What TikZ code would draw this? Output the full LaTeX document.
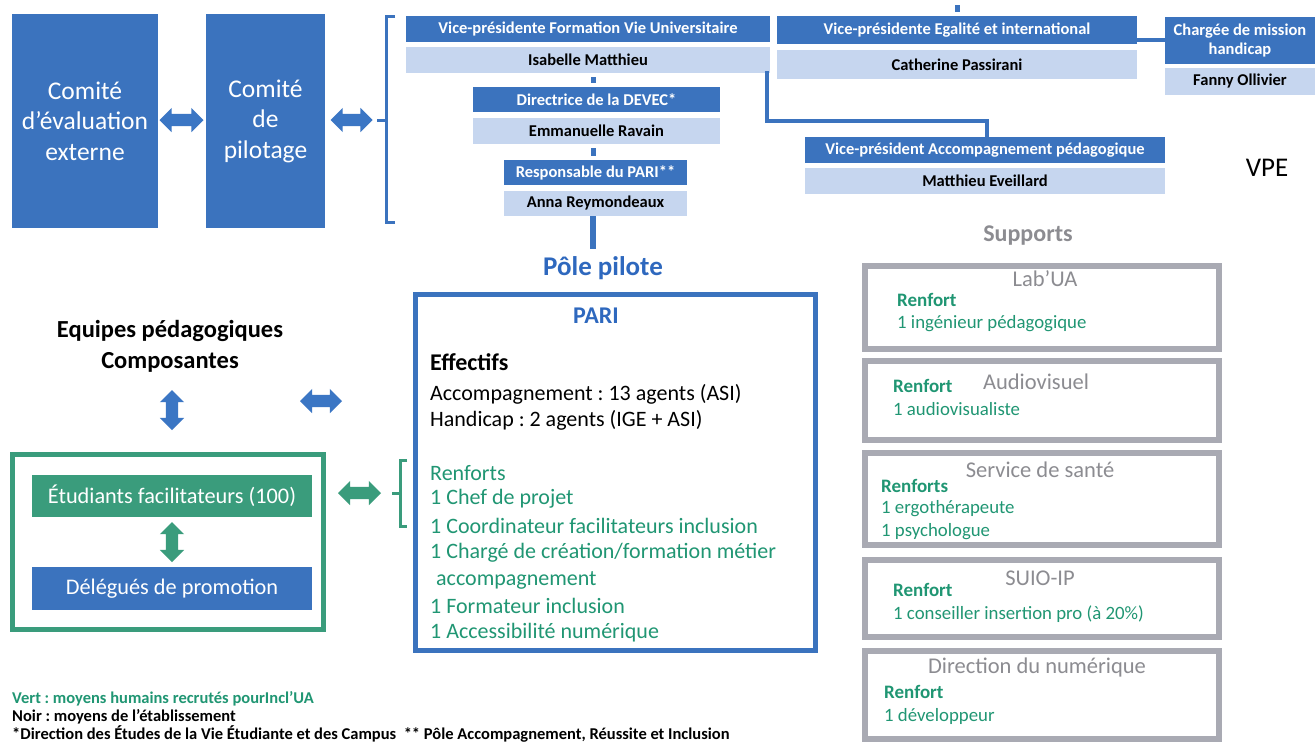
\documentclass[tikz,border=0pt]{standalone}
\usepackage{fontspec}
\setmainfont{Carlito}
\usetikzlibrary{shapes.arrows,calc}
\definecolor{hblue}{RGB}{59,115,190}
\definecolor{lblue}{RGB}{198,214,239}
\definecolor{ablue}{RGB}{59,118,196}
\definecolor{tblue}{RGB}{46,104,190}
\definecolor{gtext}{RGB}{32,150,115}
\definecolor{gfill}{RGB}{58,156,124}
\definecolor{gborder}{RGB}{169,170,179}
\definecolor{gtitle}{RGB}{140,140,145}
\newcommand\fsz[2]{\fontsize{#1}{#2}\selectfont}
\tikzset{
  hdr/.style={fill=hblue, text=white, font=\bfseries\fsz{16.5}{18}, inner sep=0pt, align=center},
  nm/.style={fill=lblue, text=black, font=\bfseries\fsz{16.5}{18}, inner sep=0pt},
  comite/.style={fill=hblue, text=white, font=\fsz{25.5}{30.5}, inner sep=0pt, align=center},
  harrow/.style={double arrow, fill=ablue, draw=none, inner sep=6pt, minimum width=24pt, double arrow head extend=6pt},
  garrow/.style={double arrow, fill=gfill, draw=none, inner sep=6pt, minimum width=24pt, double arrow head extend=6pt},
  conn/.style={draw=hblue, line width=5pt},
  suppbox/.style={draw=gborder, line width=6pt, fill=white, minimum width=354pt, inner sep=0pt},
  supptitle/.style={text=gtitle, font=\fsz{22.5}{24}, inner sep=0pt},
  sren/.style={text=gtext, font=\bfseries\fsz{19}{21}, inner sep=0pt, anchor=west},
  sline/.style={text=gtext, font=\fsz{18.8}{21}, inner sep=0pt, anchor=west},
  pline/.style={font=\fsz{22}{24}, inner sep=0pt, anchor=west},
  gline/.style={text=gtext, font=\fsz{22}{24}, inner sep=0pt, anchor=west},
  foot/.style={font=\bfseries\fsz{16.5}{18}, inner sep=0pt, anchor=west},
}
\begin{document}
\frenchspacing
\begin{tikzpicture}[x=1pt,y=-1pt]
\useasboundingbox[fill=white] (0,0) rectangle (1315,742);

% Comites
\node[comite, minimum width=146pt, minimum height=214pt] (cee) at (85,121) {Comité\\d’évaluation\\externe};
\node[comite, minimum width=119pt, minimum height=214pt] (cp) at (265.5,121) {Comité\\de\\pilotage};
\node[harrow, minimum height=44pt] (a1) at (181.5,120) {};
\node[harrow, minimum height=42pt] (a2) at (351.5,120) {};

% blue bracket
\coordinate (brt) at (395,16);
\coordinate (brb) at (395,222);
\draw[draw=hblue, line width=3pt] (brt) -- ++(-9,0) |- (brb);
\draw[draw=hblue, line width=3pt] (386,120) -- (377,120);

% left chain
\node[hdr, minimum width=364pt, minimum height=26pt] (vpf) at (588,29) {Vice-présidente Formation Vie Universitaire};
\node[nm, minimum width=364pt, minimum height=26pt] (isa) at (588,60) {Isabelle Matthieu};
\node[hdr, minimum width=247pt, minimum height=25pt] (dev) at (596.5,99.5) {Directrice de la DEVEC*};
\node[nm, minimum width=247pt, minimum height=26pt] (emm) at (596.5,131) {Emmanuelle Ravain};
\node[hdr, minimum width=183pt, minimum height=25pt] (resp) at (595.5,172.5) {Responsable du PARI**};
\node[nm, minimum width=183pt, minimum height=25pt] (anna) at (595.5,203.5) {Anna Reymondeaux};
\draw[conn, shorten <=4pt, shorten >=4pt] ([xshift=-3pt]dev.north) -- ([xshift=-3pt]dev.north |- isa.south);
\draw[conn, shorten <=4pt, shorten >=4pt] ([xshift=-2pt]resp.north) -- ([xshift=-2pt]resp.north |- emm.south);
\node[text=tblue, font=\bfseries\fsz{27}{29}, inner sep=0pt] (pole) at (603,268) {Pôle pilote};
\draw[draw=hblue, line width=6pt] ([xshift=-2.5pt]anna.south) -- ++(0,33);

% right chain
\node[hdr, minimum width=360pt, minimum height=28pt] (vpe) at (957,30) {Vice-présidente Egalité et international};
\node[nm, minimum width=360pt, minimum height=29pt] (cat) at (957,64.5) {Catherine Passirani};
\coordinate (vpetop) at (957.5,5);
\draw[draw=hblue, line width=5pt] (vpetop) -- ++(0,7);
\node[hdr, minimum width=150pt, minimum height=47pt, font=\bfseries\fsz{16.5}{19}] (cmh) at (1240,40.5) {Chargée de mission\\handicap};
\node[nm, minimum width=150pt, minimum height=27pt] (fan) at (1240,81.5) {Fanny Ollivier};
\draw[draw=hblue, line width=3.5pt] (vpe.east |- 0,40) -- (cmh.west |- 0,40);
\node[hdr, minimum width=360pt, minimum height=26pt] (vpa) at (985,150) {Vice-président Accompagnement pédagogique};
\node[nm, minimum width=360pt, minimum height=26pt] (mat) at (985,181) {Matthieu Eveillard};
\draw[draw=hblue, line width=3.5pt] (767,71) -- (767,121) -| (vpa.north -| 987,0);
\node[font=\fsz{27}{29}, inner sep=0pt] (vpel) at (1267,168) {VPE};

% supports
\node[text=gtitle, font=\bfseries\fsz{24}{26}, inner sep=0pt] (sup) at (1028,236) {Supports};
\node[suppbox, minimum height=83pt] (s1) at (1042,307.5) {};
\node[supptitle] (s1t) at (1045,279) {Lab’UA};
\node[sren] (s1r) at (897,300) {Renfort};
\node[sline] (s1a) at (897,324) {1 ingénieur pédagogique};

\node[suppbox, minimum height=79pt] (s2) at (1042,400.5) {};
\node[supptitle] (s2t) at (1036,382) {Audiovisuel};
\node[sren] (s2r) at (893,386) {Renfort};
\node[sline] (s2a) at (893,409) {1 audiovisualiste};

\node[suppbox, minimum height=92pt] (s3) at (1042,499) {};
\node[supptitle] (s3t) at (1040,470) {Service de santé};
\node[sren] (s3r) at (881,486) {Renforts};
\node[sline] (s3a) at (881,509) {1 ergothérapeute};
\node[sline] (s3b) at (881,532) {1 psychologue};

\node[suppbox, minimum height=77pt] (s4) at (1042,598.5) {};
\node[supptitle] (s4t) at (1040,578) {SUIO-IP};
\node[sren] (s4r) at (893,590) {Renfort};
\node[sline] (s4a) at (893,614) {1 conseiller insertion pro (à 20\%)};

\node[suppbox, minimum height=88pt] (s5) at (1042,695) {};
\node[supptitle] (s5t) at (1037,667) {Direction du numérique};
\node[sren] (s5r) at (884,692) {Renfort};
\node[sline] (s5a) at (884,716) {1 développeur};

% PARI box
\node[draw=hblue, line width=5pt, minimum width=400pt, minimum height=356pt, inner sep=0pt] (pari) at (615.5,472.5) {};
\node[text=tblue, font=\bfseries\fsz{24}{26}, inner sep=0pt] (parit) at (596,316) {PARI};
\node[pline, font=\bfseries\fsz{24}{26}] (eff) at (430,362) {Effectifs};
\node[pline] (p1) at (430,394) {Accompagnement : 13 agents (ASI)};
\node[pline] (p2) at (430,420) {Handicap : 2 agents (IGE + ASI)};
\node[gline] (r0) at (430,473) {Renforts};
\node[gline] (r1) at (430,499) {1 Chef de projet};
\node[gline] (r2) at (430,526) {1 Coordinateur facilitateurs inclusion};
\node[gline] (r3) at (430,553) {1 Chargé de création/formation métier};
\node[gline] (r3b) at (436,580) {accompagnement};
\node[gline] (r4) at (430,606) {1 Formateur inclusion};
\node[gline] (r5) at (430,633) {1 Accessibilité numérique};

% green bracket
\draw[draw=gfill, line width=3pt] (407,460) -- (400,460) -- (400,526) -- (407,526);
\draw[draw=gfill, line width=3pt] (400,493) -- (392,493);

% left side
\node[font=\bfseries\fsz{24.5}{31}, inner sep=0pt, align=center] (eq) at (170,346.5) {Equipes pédagogiques\\Composantes};
\node[harrow, minimum height=42pt] (a3) at (321,401) {};
\node[garrow, minimum height=43pt] (a4) at (359.5,493) {};
\node[harrow, minimum height=40pt, rotate=90] (a5) at (172,410) {};
\node[draw=gfill, line width=5pt, minimum width=311pt, minimum height=175pt, inner sep=0pt] (gbox) at (168,542) {};
\node[fill=gfill, text=white, font=\fsz{22.3}{24}, minimum width=280pt, minimum height=42pt, inner sep=0pt] (etu) at (172,496) {Étudiants facilitateurs (100)};
\node[garrow, minimum height=40pt, rotate=90] (a6) at (172,542) {};
\node[fill=hblue, text=white, font=\fsz{22.3}{24}, minimum width=280pt, minimum height=43pt, inner sep=0pt] (del) at (172,588.5) {Délégués de promotion};

% footer
\node[foot, text=gtext] (f1) at (12,699) {Vert : moyens humains recrutés pourIncl’UA};
\node[foot] (f2) at (12,717) {Noir : moyens de l’établissement};
\node[foot] (f3) at (12,734) {*Direction des Études de la Vie Étudiante et des Campus\ \ ** Pôle Accompagnement, Réussite et Inclusion};
\end{tikzpicture}
\end{document}
